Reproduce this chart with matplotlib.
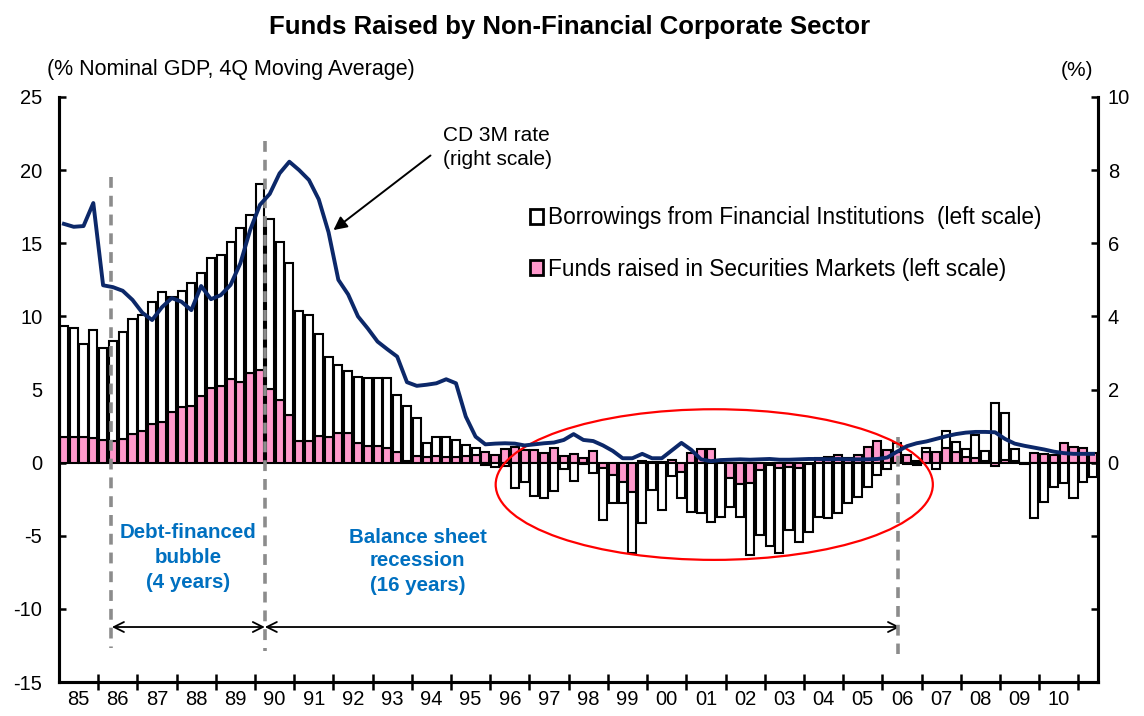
import numpy as np
import matplotlib
matplotlib.use("Agg")
import matplotlib.pyplot as plt
from matplotlib.patches import Ellipse, Patch

plt.rcParams['font.family'] = ['Liberation Sans', 'DejaVu Sans']
plt.rcParams['axes.unicode_minus'] = False

# ---------------- data (quarterly, 1985Q1 - 2011Q2) ----------------
year_labels = ['85', '86', '87', '88', '89', '90', '91', '92', '93', '94', '95', '96',
               '97', '98', '99', '00', '01', '02', '03', '04', '05', '06', '07', '08',
               '09', '10']

# Funds raised in securities markets (% of nominal GDP, left scale)
securities = [1.77, 1.77, 1.77, 1.66, 1.55, 1.48, 1.60, 1.96, 2.16, 2.64,
              2.80, 3.48, 3.78, 3.89, 4.58, 5.08, 5.26, 5.69, 5.49, 6.15,
              6.33, 5.01, 4.28, 3.25, 1.50, 1.50, 1.82, 1.73, 2.00, 2.00,
              1.36, 1.13, 1.13, 0.98, 0.75, 0.10, 0.45, 0.40, 0.45, 0.40,
              0.40, 0.45, 0.52, 0.75, 0.52, 0.90, 1.05, 0.86, 0.86, 0.63,
              0.97, 0.45, 0.59, 0.29, 0.82, -0.39, -0.85, -1.30, -1.99, 0.10,
              0.05, 0.05, 0.20, -0.62, 0.68, 0.91, 0.91, -0.05, -1.08, -1.46,
              -1.37, -0.51, -0.17, -0.39, -0.30, -0.40, -0.10, 0.29, 0.41, 0.52,
              0.29, 0.52, 1.09, 1.50, 0.86, 0.74, 0.52, 0.10, 0.74, 0.74,
              0.97, 0.74, 0.36, 0.29, 0.10, -0.20, 0.20, 0.10, 0.00, 0.63,
              0.59, 0.52, 1.36, 1.09, 0.97, 0.63]

# Borrowings from financial institutions (% of nominal GDP, left scale)
borrowings = [7.59, 7.45, 6.32, 7.41, 6.26, 6.83, 7.31, 7.86, 7.93, 8.36,
              8.90, 7.82, 7.95, 8.41, 8.36, 8.89, 8.93, 9.37, 10.57, 10.78,
              12.72, 11.62, 10.78, 10.38, 8.90, 8.59, 6.98, 5.47, 4.67, 4.28,
              4.47, 4.64, 4.64, 4.79, 3.87, 3.77, 2.62, 0.96, 1.32, 1.37,
              1.15, 0.75, 0.50, -0.16, -0.28, -0.20, -1.76, -1.30, -2.28, -2.40,
              -1.92, -0.46, -1.26, -0.10, -0.69, -3.53, -1.93, -1.48, -4.17, -4.15,
              -1.87, -3.24, -0.92, -1.82, -3.35, -3.47, -4.04, -3.70, -1.93, -2.24,
              -4.93, -4.44, -5.53, -5.81, -4.31, -5.01, -4.62, -3.70, -3.81, -3.42,
              -2.74, -2.33, -1.65, -0.85, -0.46, 0.58, -0.10, -0.15, 0.23, -0.46,
              1.21, 0.69, 0.57, 1.60, 0.72, 4.10, 3.21, 0.83, -0.10, -3.81,
              -2.67, -1.65, -1.42, -2.40, -1.30, -0.97]

# CD 3M rate (%, right scale)
cd_rate = [6.53, 6.45, 6.47, 7.10, 4.85, 4.80, 4.70, 4.45, 4.10, 3.90,
           4.25, 4.50, 4.40, 4.17, 4.83, 4.47, 4.58, 4.86, 5.45, 6.36,
           7.05, 7.35, 7.91, 8.23, 8.00, 7.73, 7.20, 6.30, 5.00, 4.60,
           4.00, 3.67, 3.31, 3.10, 2.90, 2.20, 2.10, 2.13, 2.17, 2.28,
           2.17, 1.26, 0.71, 0.50, 0.52, 0.53, 0.52, 0.47, 0.50, 0.53,
           0.55, 0.62, 0.78, 0.62, 0.59, 0.47, 0.32, 0.12, 0.12, 0.24,
           0.12, 0.12, 0.33, 0.54, 0.35, 0.09, 0.04, 0.07, 0.08, 0.09,
           0.08, 0.09, 0.10, 0.08, 0.08, 0.09, 0.10, 0.10, 0.09, 0.10,
           0.09, 0.09, 0.09, 0.10, 0.14, 0.30, 0.45, 0.53, 0.58, 0.65,
           0.72, 0.78, 0.82, 0.84, 0.84, 0.83, 0.65, 0.52, 0.46, 0.41,
           0.36, 0.30, 0.26, 0.24, 0.24, 0.24]

# ---------------- figure ----------------
W, H = 1144, 716
fig = plt.figure(figsize=(W / 100, H / 100), dpi=100)
ax = fig.add_axes([59 / W, 1 - 682 / H, (1098 - 59) / W, (682 - 97) / H])

sec = np.array(securities)
bor = np.array(borrowings)
cd = np.array(cd_rate)
q = np.arange(len(sec))

PINK = '#FF99CC'
NAVY = '#0C2869'
BLUE = '#0070C0'

bw = 0.82
elw = 1.5
ax.bar(q, sec, width=bw, bottom=0, color=PINK, edgecolor='black', linewidth=elw, zorder=2)
white_bottom = np.where(bor >= 0, np.maximum(sec, 0), np.minimum(sec, 0))
ax.bar(q, bor, width=bw, bottom=white_bottom, color='white', edgecolor='black',
       linewidth=elw, zorder=2)

ax.set_xlim(-0.5, len(sec) - 0.5)
ax.set_ylim(-15, 25)
ax.set_yticks(np.arange(-15, 26, 5))
ax.tick_params(axis='y', direction='in', length=5, width=1.8, labelsize=14.5, pad=12)

# year boundary ticks (major, no label) and year labels at mid-year (minor, no tick)
n_years = len(year_labels)
ax.set_xticks(np.arange(1, n_years + 1) * 4 - 0.5)
ax.set_xticklabels([])
ax.set_xticks(np.arange(n_years) * 4 + 1.5, minor=True)
ax.set_xticklabels(year_labels, minor=True)
ax.tick_params(axis='x', which='major', direction='inout', length=11, width=1.8)
ax.tick_params(axis='x', which='minor', length=0, labelsize=14.5, pad=6)

for s in ['left', 'bottom', 'right']:
    ax.spines[s].set_linewidth(2.2)
ax.spines['top'].set_visible(False)

# right axis
ax2 = ax.twinx()
ax2.set_ylim(-6, 10)
ax2.set_yticks(np.arange(-6, 11, 2))
ax2.set_yticklabels(['' if v < 0 else str(v) for v in range(-6, 11, 2)])
ax2.tick_params(axis='y', direction='in', length=5, width=1.8, labelsize=14.5, pad=7)
for s in ['left', 'bottom', 'right']:
    ax2.spines[s].set_linewidth(2.2)
ax2.spines['top'].set_visible(False)
ax2.plot(q, cd, color=NAVY, lw=2.8, zorder=5, solid_joinstyle='round')

# dashed period markers
dash_kw = dict(color='#8C8C8C', lw=2.6, ls=(0, (3, 2.2)), zorder=4)
ax.plot([4.76, 4.76], [19.5, -12.7], **dash_kw)
ax.plot([20.5, 20.5], [22.0, -12.9], **dash_kw)
ax.plot([85.13, 85.13], [1.75, -13.1], **dash_kw)

# double-headed arrows
arr_kw = dict(arrowstyle='<->', color='black', lw=1.3, mutation_scale=18, shrinkA=0, shrinkB=0)
ax.annotate('', xy=(20.5, -11.24), xytext=(4.9, -11.24), arrowprops=arr_kw)
ax.annotate('', xy=(85.3, -11.24), xytext=(20.5, -11.24), arrowprops=arr_kw)

# period texts
txt_kw = dict(color=BLUE, fontsize=14.8, fontweight='bold', ha='center', va='center')
for yv, t in zip([-4.8, -6.47, -8.18], ['Debt-financed', 'bubble', '(4 years)']):
    ax.text(12.7, yv, t, **txt_kw)
for yv, t in zip([-5.09, -6.66, -8.37], ['Balance sheet', 'recession', '(16 years)']):
    ax.text(36.07, yv, t, **txt_kw)

# red ellipse
ax.add_patch(Ellipse((66.35, -1.5), 44.6, 10.3, fill=False, edgecolor='#FF0000', lw=1.6, zorder=4))

# CD rate label + arrow
ax.text(38.7, 22.4, 'CD 3M rate', fontsize=15, ha='left', va='center')
ax.text(38.7, 20.7, '(right scale)', fontsize=15, ha='left', va='center')
ax.annotate('', xy=(27.5, 15.9), xytext=(37.4, 21.0),
            arrowprops=dict(arrowstyle='-|>', color='black', lw=1.4, mutation_scale=20,
                            shrinkA=0, shrinkB=0))

# legend
handles = [Patch(facecolor='white', edgecolor='black', lw=2.0,
                 label='Borrowings from Financial Institutions  (left scale)'),
           Patch(facecolor=PINK, edgecolor='black', lw=2.0,
                 label='Funds raised in Securities Markets (left scale)')]
fig.legend(handles=handles, loc='upper left', bbox_to_anchor=(519 / W, 1 - 195 / H),
           frameon=False, fontsize=16.3, handlelength=0.55, handleheight=0.6,
           handletextpad=0.25, labelspacing=1.25, borderpad=0)

# titles
fig.text(570 / W, 1 - 27 / H, 'Funds Raised by Non-Financial Corporate Sector',
         fontsize=18.5, fontweight='bold', ha='center', va='center')
fig.text(47 / W, 1 - 70 / H, '(% Nominal GDP, 4Q Moving Average)', fontsize=15.5,
         ha='left', va='center')
fig.text(1077 / W, 1 - 70 / H, '(%)', fontsize=15, ha='center', va='center')

fig.savefig('out.png', dpi=100)
